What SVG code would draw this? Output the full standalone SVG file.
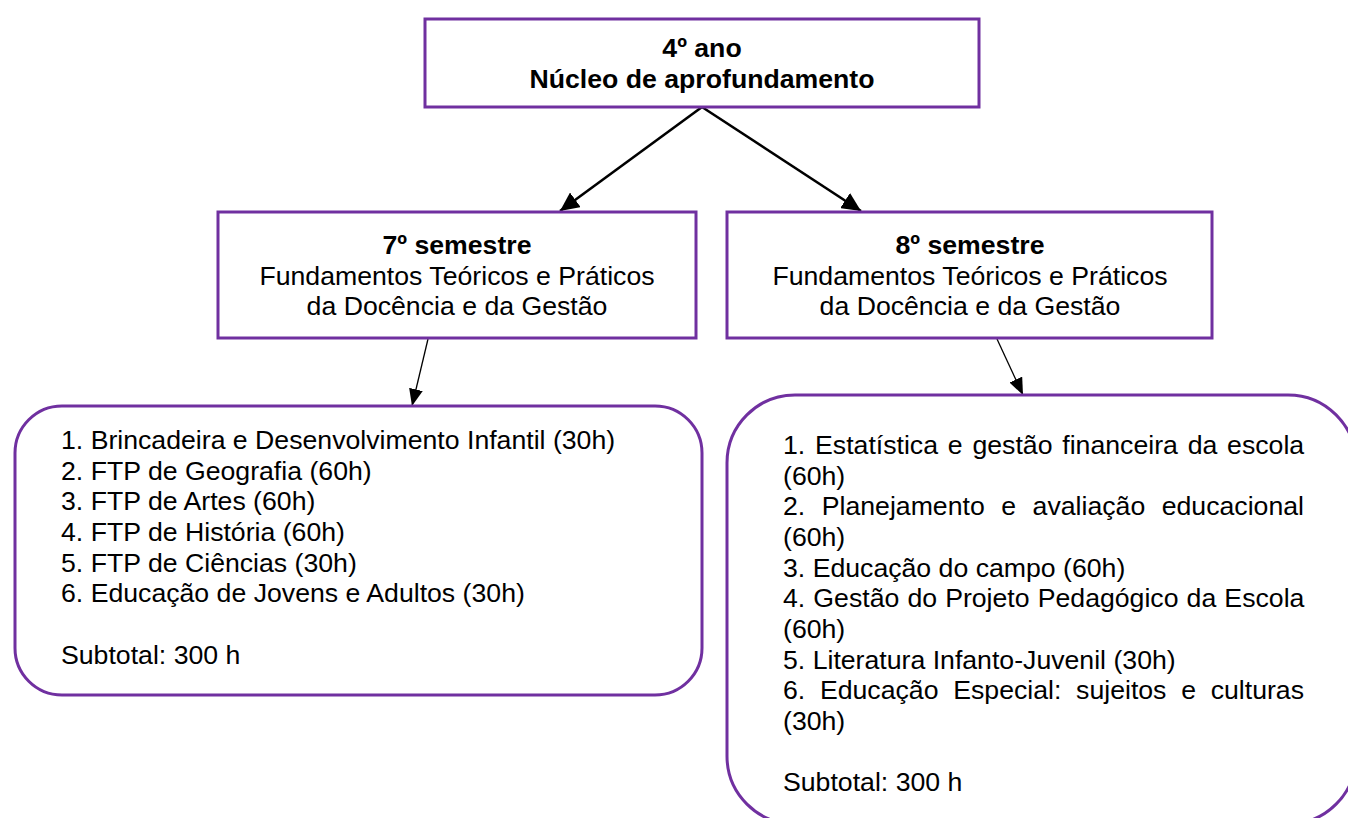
<svg xmlns="http://www.w3.org/2000/svg" width="1348" height="818" viewBox="0 0 1348 818">
<style>
.box{fill:#ffffff;stroke:#7030A0;stroke-width:3}
.t{font-family:"Liberation Sans",Arial,sans-serif;font-size:26.67px;fill:#000}
.b{font-weight:bold}
.c{text-anchor:middle}
.thick{stroke:#000;stroke-width:2.6;fill:none}
.thin{stroke:#000;stroke-width:1.3;fill:none}
</style>
<defs>
<marker id="headL" markerUnits="userSpaceOnUse" markerWidth="20" markerHeight="18" refX="19" refY="9" orient="auto">
<path d="M0,0 L19,9 L0,18 Z" fill="#000"/>
</marker>
<marker id="headS" markerUnits="userSpaceOnUse" markerWidth="18" markerHeight="14" refX="17" refY="7" orient="auto">
<path d="M0,0 L17,7 L0,14 Z" fill="#000"/>
</marker>
</defs>
<rect width="1348" height="818" fill="#fff"/>

<g id="connectors">
<line class="thick" x1="702" y1="107" x2="560" y2="211" marker-end="url(#headL)"/>
<line class="thick" x1="702" y1="107" x2="861" y2="211" marker-end="url(#headL)"/>
<line class="thin" x1="428" y1="339" x2="412" y2="406" marker-end="url(#headS)"/>
<line class="thin" x1="997" y1="339" x2="1023" y2="395" marker-end="url(#headS)"/>
</g>

<g id="node-4ano">
<rect class="box" x="425" y="19" width="554" height="88"/>
<text class="t b c" x="702" y="57">4º ano</text>
<text class="t b c" x="702" y="88">Núcleo de aprofundamento</text>
</g>

<g id="node-7sem">
<rect class="box" x="218" y="212" width="478" height="126"/>
<text class="t b c" x="457" y="254">7º semestre</text>
<text class="t c" x="457" y="284.5">Fundamentos Teóricos e Práticos</text>
<text class="t c" x="457" y="315">da Docência e da Gestão</text>
</g>

<g id="node-8sem">
<rect class="box" x="727" y="212" width="485" height="126"/>
<text class="t b c" x="970" y="254">8º semestre</text>
<text class="t c" x="970" y="284.5">Fundamentos Teóricos e Práticos</text>
<text class="t c" x="970" y="315">da Docência e da Gestão</text>
</g>

<g id="node-list7">
<rect class="box" x="15" y="406" width="687" height="289" rx="47" ry="47"/>
<text class="t" x="61" y="449">1. Brincadeira e Desenvolvimento Infantil (30h)</text>
<text class="t" x="61" y="479.7">2. FTP de Geografia (60h)</text>
<text class="t" x="61" y="510.3">3. FTP de Artes (60h)</text>
<text class="t" x="61" y="541">4. FTP de História (60h)</text>
<text class="t" x="61" y="571.7">5. FTP de Ciências (30h)</text>
<text class="t" x="61" y="602.3">6. Educação de Jovens e Adultos (30h)</text>
<text class="t" x="61" y="663.7">Subtotal: 300 h</text>
</g>

<g id="node-list8">
<rect class="box" x="727" y="395" width="629" height="429" rx="68" ry="68"/>
<text class="t" x="783" y="454" word-spacing="2.4">1. Estatística e gestão financeira da escola</text>
<text class="t" x="783" y="484.7">(60h)</text>
<text class="t" x="783" y="515.3" word-spacing="9.1">2. Planejamento e avaliação educacional</text>
<text class="t" x="783" y="546">(60h)</text>
<text class="t" x="783" y="576.7">3. Educação do campo (60h)</text>
<text class="t" x="783" y="607.3" word-spacing="0.7">4. Gestão do Projeto Pedagógico da Escola</text>
<text class="t" x="783" y="638">(60h)</text>
<text class="t" x="783" y="668.7">5. Literatura Infanto-Juvenil (30h)</text>
<text class="t" x="783" y="699.3" word-spacing="7.3">6. Educação Especial: sujeitos e culturas</text>
<text class="t" x="783" y="730">(30h)</text>
<text class="t" x="783" y="791.3">Subtotal: 300 h</text>
</g>
</svg>
